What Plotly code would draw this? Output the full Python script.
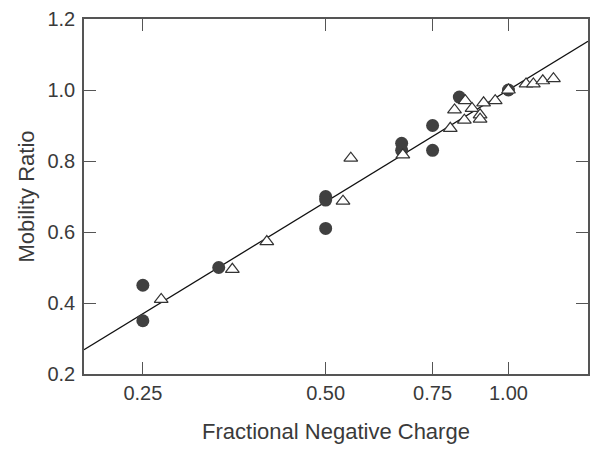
import numpy as np
import plotly.graph_objects as go

# Filled circles
circ_x = [0.25, 0.25, 1/3, 0.5, 0.5, 0.5, 0.667, 0.667, 0.75, 0.75, 0.83, 1.0]
circ_y = [0.45, 0.35, 0.50, 0.70, 0.69, 0.61, 0.85, 0.83, 0.90, 0.83, 0.98, 1.00]

# Open triangles
tri_x = [0.268, 0.351, 0.400, 0.534, 0.550, 0.670, 0.802, 0.815, 0.846, 0.849,
         0.871, 0.898, 0.898, 0.910, 0.951, 1.0, 1.069, 1.099, 1.139, 1.186]
tri_y = [0.41, 0.495, 0.573, 0.687, 0.808, 0.817, 0.892, 0.944, 0.915, 0.970,
         0.948, 0.930, 0.918, 0.964, 0.970, 1.00, 1.017, 1.017, 1.026, 1.032]

# Fitted line: y = intercept + slope * log10(x)
fit_intercept = 1.0
fit_slope = 1.047
x_min, x_max = 0.2, 1.352

x_ticks = [0.25, 0.50, 0.75, 1.00]
x_tick_text = ["0.25", "0.50", "0.75", "1.00"]
y_ticks = [0.2, 0.4, 0.6, 0.8, 1.0, 1.2]
y_tick_text = ["0.2", "0.4", "0.6", "0.8", "1.0", "1.2"]

line_x = np.logspace(np.log10(x_min), np.log10(x_max), 50)
line_y = fit_intercept + fit_slope * np.log10(line_x)

fig = go.Figure()
fig.add_trace(go.Scatter(x=line_x, y=line_y, mode="lines",
                         line=dict(color="#111111", width=1.3), showlegend=False))
fig.add_trace(go.Scatter(x=circ_x, y=circ_y, mode="markers",
                         marker=dict(symbol="circle", size=13, color="#404040",
                                     line=dict(width=0)), showlegend=False))
fig.add_trace(go.Scatter(x=tri_x, y=tri_y, mode="markers",
                         marker=dict(symbol="triangle-up", size=12, color="white",
                                     line=dict(width=1.2, color="#333333")),
                         showlegend=False))

tick_font = dict(family="Liberation Sans, Arial, sans-serif", size=20, color="#3a3a3a")
title_font = dict(family="Liberation Sans, Arial, sans-serif", size=22, color="#3a3a3a")
axis_common = dict(showline=True, linecolor="#555555", linewidth=1.5, mirror="ticks",
                   ticks="inside", ticklen=12, tickwidth=1.3, tickcolor="#555555",
                   showgrid=False, zeroline=False, tickfont=tick_font, automargin=False)

fig.update_xaxes(type="log", range=[np.log10(x_min), np.log10(x_max)],
                 tickvals=x_ticks, ticktext=x_tick_text,
                 title=dict(text="Fractional Negative Charge", font=title_font, standoff=21),
                 **axis_common)
fig.update_yaxes(range=[0.2, 1.2], tickvals=y_ticks, ticktext=y_tick_text,
                 ticklabelstandoff=3,
                 title=dict(text="Mobility Ratio", font=title_font, standoff=7),
                 **axis_common)

fig.update_layout(width=586, height=439, plot_bgcolor="white", paper_bgcolor="white",
                  margin=dict(l=76, r=6, t=11, b=73), font=tick_font)

fig.write_html("out.html")
